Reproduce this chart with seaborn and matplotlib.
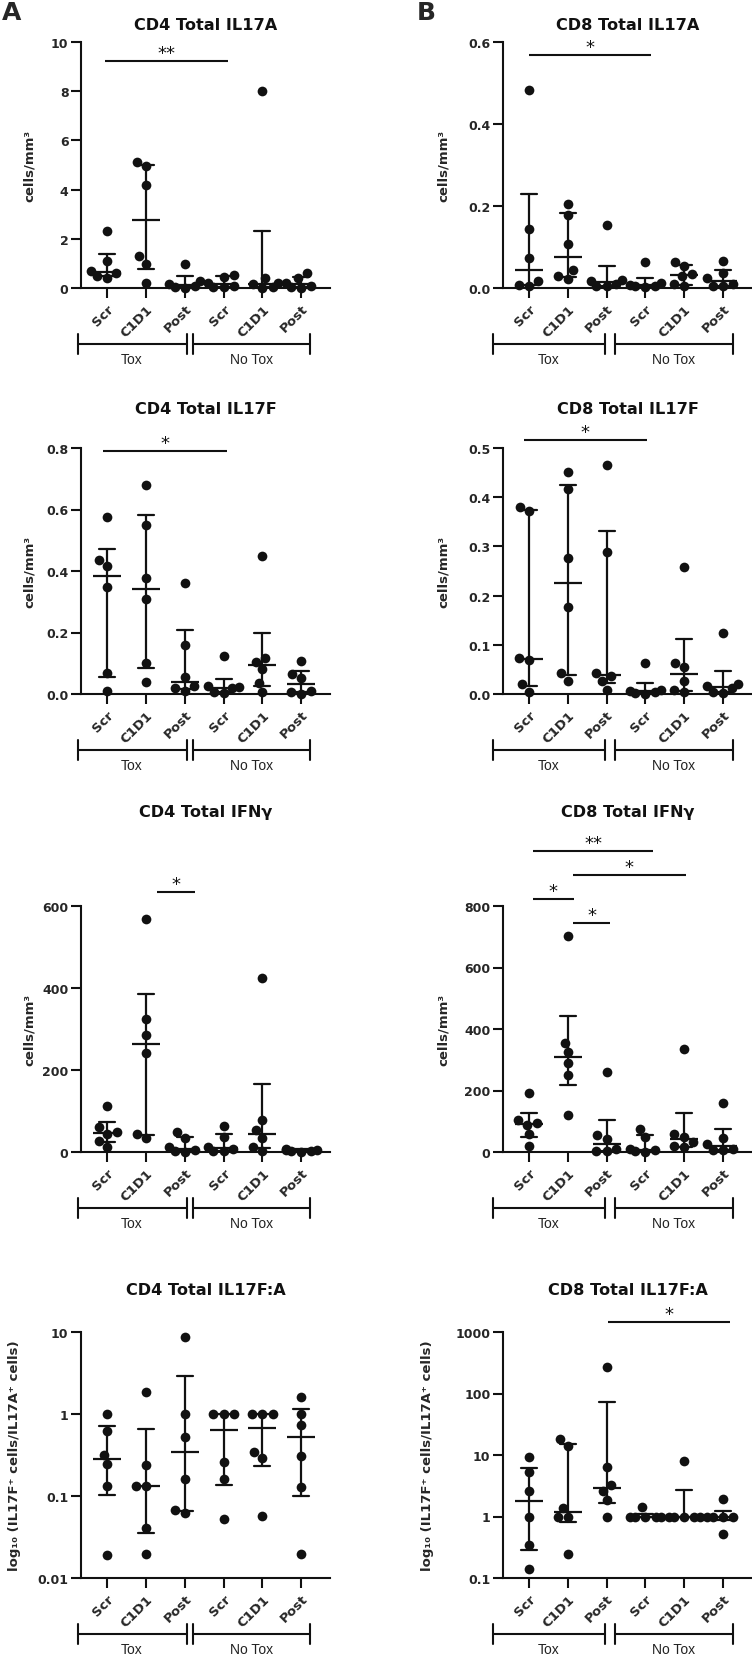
import numpy as np
import pandas as pd
import matplotlib
matplotlib.use("Agg")
import matplotlib.pyplot as plt
from matplotlib.ticker import NullLocator
import seaborn as sns

sns.set_style("ticks")
plt.rcParams["font.family"] = ["DejaVu Sans"]

# ---------------- data ----------------
timepoints = ["Scr", "C1D1", "Post"]
cohorts = ["Tox", "No Tox"]

cd4_il17a = [[2.3, 1.08, 0.7, 0.62, 0.5, 0.42],
             [5.12, 4.96, 4.2, 1.29, 0.99, 0.2],
             [0.97, 0.3, 0.15, 0.08, 0.05, 0.02],
             [0.52, 0.45, 0.2, 0.1, 0.05, 0.05],
             [8.0, 0.4, 0.2, 0.15, 0.05, 0.02],
             [0.6, 0.4, 0.2, 0.1, 0.05, 0.02]]
cd8_il17a = [[0.484, 0.145, 0.072, 0.018, 0.008, 0.006],
             [0.204, 0.177, 0.108, 0.043, 0.029, 0.023],
             [0.154, 0.019, 0.018, 0.010, 0.006, 0.004],
             [0.063, 0.012, 0.008, 0.006, 0.004, 0.002],
             [0.063, 0.053, 0.033, 0.029, 0.009, 0.006],
             [0.065, 0.037, 0.025, 0.010, 0.006, 0.005]]
cd4_il17f = [[0.575, 0.436, 0.416, 0.349, 0.069, 0.010],
             [0.681, 0.548, 0.377, 0.309, 0.100, 0.039],
             [0.361, 0.159, 0.056, 0.025, 0.020, 0.010],
             [0.123, 0.025, 0.022, 0.018, 0.008, 0.002],
             [0.448, 0.116, 0.105, 0.081, 0.035, 0.005],
             [0.108, 0.064, 0.053, 0.010, 0.008, 0.001]]
cd8_il17f = [[0.380, 0.372, 0.074, 0.069, 0.020, 0.005],
             [0.451, 0.416, 0.277, 0.176, 0.042, 0.027],
             [0.465, 0.288, 0.042, 0.037, 0.026, 0.008],
             [0.064, 0.008, 0.007, 0.005, 0.002, 0.001],
             [0.258, 0.064, 0.054, 0.026, 0.008, 0.004],
             [0.124, 0.020, 0.017, 0.012, 0.005, 0.002]]
cd4_ifng = [[112, 61, 49, 45, 27, 12],
            [569, 324, 285, 242, 45, 33],
            [49, 33, 12, 4, 2, 1],
            [63, 37, 12, 8, 3, 2],
            [425, 79, 53, 34, 11, 2],
            [8, 6, 5, 3, 2, 1]]
cd8_ifng = [[193, 105, 93, 88, 57, 20],
            [702, 355, 325, 291, 252, 119],
            [260, 54, 43, 11, 3, 3],
            [76, 49, 11, 5, 2, 0],
            [336, 57, 49, 33, 18, 16],
            [160, 46, 27, 11, 8, 5]]
cd4_ratio = [[1.0, 0.625, 0.319, 0.245, 0.131, 0.0189],
             [1.88, 0.238, 0.133, 0.131, 0.041, 0.0198],
             [8.6, 1.0, 0.53, 0.162, 0.068, 0.062],
             [1.0, 1.0, 1.0, 0.263, 0.162, 0.0527],
             [1.0, 1.0, 1.0, 0.34, 0.29, 0.0565],
             [1.59, 1.0, 0.73, 0.305, 0.128, 0.0198]]
cd8_ratio = [[9.17, 5.2, 2.58, 1.0, 0.34, 0.142],
             [18.2, 14.1, 1.37, 1.0, 1.0, 0.25],
             [271, 6.3, 3.2, 2.6, 1.85, 1.0],
             [1.41, 1.0, 1.0, 1.0, 1.0, 1.0],
             [7.9, 1.0, 1.0, 1.0, 1.0, 1.0],
             [1.93, 1.0, 1.0, 1.0, 1.0, 0.51]]

# significance bars: (from category, to category, y value, label)
sig_cd4_il17a = [(-0.05, 3.12, 9.23, "**")]
sig_cd8_il17a = [(0.0, 3.14, 0.568, "*")]
sig_cd4_il17f = [(-0.1, 3.09, 0.79, "*")]
sig_cd8_il17f = [(-0.13, 3.04, 0.516, "*")]
sig_cd4_ifng = [(1.29, 2.27, 634, "*")]
sig_cd8_ifng = [(0.1, 3.2, 979, "**"), (1.13, 4.05, 901, "*"),
                (0.1, 1.16, 823, "*"), (1.13, 2.1, 745, "*")]
sig_cd4_ratio = []
sig_cd8_ratio = [(2.04, 5.18, 1454, "*")]

lin_label = "cells/mm³"
log_label = "log₁₀ (IL17F⁺ cells/IL17A⁺ cells)"

panels = [
    # row, col, title, data, ylim, yticks, yticklabels, log, ylabel, sig
    (0, 0, "CD4 Total IL17A", cd4_il17a, (0, 10), [0, 2, 4, 6, 8, 10], ["0", "2", "4", "6", "8", "10"], False, lin_label, sig_cd4_il17a),
    (0, 1, "CD8 Total IL17A", cd8_il17a, (0, 0.6), [0, 0.2, 0.4, 0.6], ["0.0", "0.2", "0.4", "0.6"], False, lin_label, sig_cd8_il17a),
    (1, 0, "CD4 Total IL17F", cd4_il17f, (0, 0.8), [0, 0.2, 0.4, 0.6, 0.8], ["0.0", "0.2", "0.4", "0.6", "0.8"], False, lin_label, sig_cd4_il17f),
    (1, 1, "CD8 Total IL17F", cd8_il17f, (0, 0.5), [0, 0.1, 0.2, 0.3, 0.4, 0.5], ["0.0", "0.1", "0.2", "0.3", "0.4", "0.5"], False, lin_label, sig_cd8_il17f),
    (2, 0, "CD4 Total IFNγ", cd4_ifng, (0, 600), [0, 200, 400, 600], ["0", "200", "400", "600"], False, lin_label, sig_cd4_ifng),
    (2, 1, "CD8 Total IFNγ", cd8_ifng, (0, 800), [0, 200, 400, 600, 800], ["0", "200", "400", "600", "800"], False, lin_label, sig_cd8_ifng),
    (3, 0, "CD4 Total IL17F:A", cd4_ratio, (0.01, 10), [0.01, 0.1, 1, 10], ["0.01", "0.1", "1", "10"], True, log_label, sig_cd4_ratio),
    (3, 1, "CD8 Total IL17F:A", cd8_ratio, (0.1, 1000), [0.1, 1, 10, 100, 1000], ["0.1", "1", "10", "100", "1000"], True, log_label, sig_cd8_ratio),
]

# cohort brackets per column (category units)
brackets = {0: [(-0.76, 2.05), (2.22, 5.22)], 1: [(-0.93, 1.95), (2.22, 5.25)]}

# ---------------- layout ----------------
W, H = 752, 1658
col_left = [81, 503]
ax_w, ax_h = 249, 246
row_top = [43, 449, 907, 1333]
title_y = [26, 409, 813, 1291]
xlims = {0: (-0.67, 5.74), 1: (-0.67, 5.75)}
ylab_x = {(0, False): -0.181, (1, False): -0.213, (0, True): -0.241, (1, True): -0.277}

INK = "#111111"
LW = 1.5

fig = plt.figure(figsize=(W / 100, H / 100), dpi=100)

keys = [f"{c} {t}" for c in cohorts for t in timepoints]
short = [t for c in cohorts for t in timepoints]


def iqr(v):
    return (np.percentile(v, 25, method="weibull"), np.percentile(v, 75, method="weibull"))


for row, col, title, data, ylim, yt, ytl, logy, ylab, sigs in panels:
    ax = fig.add_axes([col_left[col] / W, 1 - (row_top[row] + ax_h) / H, ax_w / W, ax_h / H])
    df = pd.DataFrame({
        "grp": np.repeat(keys, [len(d) for d in data]),
        "val": np.concatenate([np.asarray(d, float) for d in data]),
    })
    sns.swarmplot(data=df, x="grp", y="val", order=keys, color=INK, size=7.0,
                  ax=ax, clip_on=False, zorder=3, warn_thresh=1)
    sns.pointplot(data=df, x="grp", y="val", order=keys, estimator=np.median,
                  errorbar=iqr, capsize=0.41, color=INK, marker="_",
                  markersize=19.5, markeredgewidth=1.6, linestyle="none",
                  err_kws={"linewidth": 1.6}, ax=ax)
    if logy:
        ax.set_yscale("log")
        ax.yaxis.set_minor_locator(NullLocator())
    ax.set_xlim(*xlims[col])
    ax.set_ylim(*ylim)
    ax.set_yticks(yt)
    ax.set_yticklabels(ytl, fontsize=9, fontweight="bold")
    ax.set_xticks(range(6))
    ax.set_xticklabels(short, rotation=45, ha="right", rotation_mode="anchor",
                       fontsize=9.5, fontweight="bold")
    ax.set_xlabel("")
    ax.set_ylabel(ylab, fontsize=9.5, fontweight="bold")
    ax.yaxis.set_label_coords(ylab_x[(col, logy)], 0.5)
    for s in ["top", "right"]:
        ax.spines[s].set_visible(False)
    for s in ["left", "bottom"]:
        ax.spines[s].set_linewidth(LW)
        ax.spines[s].set_color(INK)
    ax.tick_params(direction="out", length=7, width=LW, color=INK, pad=2)
    ax.tick_params(axis="x", pad=3)

    # significance bars
    for x1, x2, y, lab in sigs:
        ax.plot([x1, x2], [y, y], color=INK, lw=LW, clip_on=False, solid_capstyle="butt")
        ax.annotate(lab, xy=((x1 + x2) / 2, y), xytext=(0, 2), textcoords="offset points",
                    ha="center", va="baseline", fontsize=13, color=INK, annotation_clip=False)

    # cohort brackets
    tr = ax.get_xaxis_transform()
    y0 = -56 / ax_h
    cap = 10 / ax_h
    for (a, b), name in zip(brackets[col], cohorts):
        ax.plot([a, b], [y0, y0], transform=tr, color=INK, lw=LW, clip_on=False)
        ax.plot([a, a], [y0 - cap, y0 + cap], transform=tr, color=INK, lw=LW, clip_on=False)
        ax.plot([b, b], [y0 - cap, y0 + cap], transform=tr, color=INK, lw=LW, clip_on=False)
        ax.text((a + b) / 2, -71 / ax_h, name, transform=tr, ha="center", va="center",
                fontsize=10, color="#222222", family=["Liberation Sans", "DejaVu Sans"])

    fig.text((col_left[col] + ax_w / 2) / W, 1 - title_y[row] / H, title,
             ha="center", va="center", fontsize=11.6, fontweight="bold", color=INK)

fig.text(12 / W, 1 - 12.5 / H, "A", ha="center", va="center", fontsize=18, fontweight="bold")
fig.text(426 / W, 1 - 12.5 / H, "B", ha="center", va="center", fontsize=18, fontweight="bold")

fig.savefig("out.png", dpi=100)
